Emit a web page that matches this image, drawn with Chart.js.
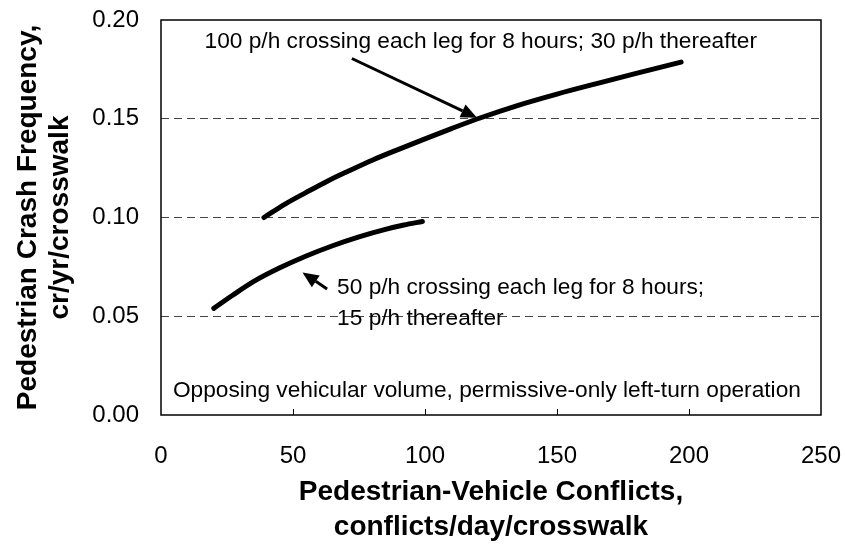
<!DOCTYPE html>
<html lang="en">

<head>
    <meta charset="UTF-8">
    <title>Pedestrian crash frequency</title>
    <style>
        body { margin: 0; background: #fff; }
        #wrap { width: 845px; height: 548px; }
    </style>
</head>

<body>
    <div id="wrap">
        <canvas id="myChart"></canvas>
    </div>

    <script src="https://cdn.jsdelivr.net/npm/chart.js"></script>

    <script>
        // 100 p/h curve
        let v_highX = [39, 47, 55, 63, 71, 80, 90, 100, 110, 120, 135, 150, 165, 180, 197];
        let v_highY = [0.100, 0.1068, 0.1127, 0.1184, 0.1235, 0.129, 0.1345, 0.1398, 0.145, 0.150, 0.1567, 0.1625, 0.1678, 0.173, 0.1787];
        // 50 p/h curve
        let v_lowX = [20, 27, 35, 45, 55, 65, 75, 85, 92, 99];
        let v_lowY = [0.054, 0.0605, 0.0675, 0.0745, 0.0805, 0.0857, 0.0902, 0.094, 0.0962, 0.098];

        let v_xTicks = [0, 50, 100, 150, 200, 250];
        let v_yTicks = [0.00, 0.05, 0.10, 0.15, 0.20];

        // text notes and arrows, in data units
        let v_notes = [
            { text: "100 p/h crossing each leg for 8 hours; 30 p/h thereafter", x: 16.5, y: 0.189 },
            { text: "50 p/h crossing each leg for 8 hours;", x: 66.7, y: 0.0645 },
            { text: "15 p/h thereafter", x: 66.7, y: 0.0485 },
            { text: "Opposing vehicular volume, permissive-only left-turn operation", x: 4.5, y: 0.0122 }
        ];
        let v_arrows = [
            { x1: 72.3, y1: 0.1805, x2: 119.7, y2: 0.1505 },
            { x1: 62.9, y1: 0.0638, x2: 53.6, y2: 0.0722 }
        ];

        function f_points(xs, ys) {
            let pts = [];
            for (let i = 0; i < xs.length; i++) {
                pts.push({ x: xs[i], y: ys[i] });
            }
            return pts;
        }

        const FONT = "'Liberation Sans', Arial, sans-serif";

        const decoPlugin = {
            id: "deco",
            beforeDatasetsDraw(chart) {
                const ctx = chart.ctx;
                const a = chart.chartArea;
                const xs = chart.scales.x;
                ctx.save();
                ctx.strokeStyle = "#000";
                ctx.lineWidth = 1.5;
                ctx.strokeRect(a.left, a.top, a.right - a.left, a.bottom - a.top);
                // small inward tick marks on the x axis
                ctx.lineWidth = 1;
                for (let i = 1; i < v_xTicks.length - 1; i++) {
                    let px = Math.round(xs.getPixelForValue(v_xTicks[i])) + 0.5;
                    ctx.beginPath();
                    ctx.moveTo(px, a.bottom);
                    ctx.lineTo(px, a.bottom - 6);
                    ctx.stroke();
                }
                ctx.restore();
            },
            afterDatasetsDraw(chart) {
                const ctx = chart.ctx;
                const xs = chart.scales.x;
                const ys = chart.scales.y;
                ctx.save();
                ctx.fillStyle = "#000";
                ctx.font = "22.7px " + FONT;
                ctx.textAlign = "left";
                ctx.textBaseline = "middle";
                for (let i = 0; i < v_notes.length; i++) {
                    ctx.fillText(v_notes[i].text, xs.getPixelForValue(v_notes[i].x), ys.getPixelForValue(v_notes[i].y));
                }
                ctx.strokeStyle = "#000";
                ctx.lineWidth = 3;
                for (let i = 0; i < v_arrows.length; i++) {
                    let x1 = xs.getPixelForValue(v_arrows[i].x1);
                    let y1 = ys.getPixelForValue(v_arrows[i].y1);
                    let x2 = xs.getPixelForValue(v_arrows[i].x2);
                    let y2 = ys.getPixelForValue(v_arrows[i].y2);
                    let ang = Math.atan2(y2 - y1, x2 - x1);
                    let hl = 16, hw = 7;
                    let bx = x2 - hl * Math.cos(ang);
                    let by = y2 - hl * Math.sin(ang);
                    ctx.beginPath();
                    ctx.moveTo(x1, y1);
                    ctx.lineTo(bx, by);
                    ctx.stroke();
                    ctx.beginPath();
                    ctx.moveTo(x2, y2);
                    ctx.lineTo(bx + hw * Math.sin(ang), by - hw * Math.cos(ang));
                    ctx.lineTo(bx - hw * Math.sin(ang), by + hw * Math.cos(ang));
                    ctx.closePath();
                    ctx.fill();
                }
                ctx.restore();
            }
        };

        const ctx = document.getElementById("myChart");

        new Chart(ctx, {
            type: "line",
            data: {
                datasets: [{
                    label: "100 p/h",
                    data: f_points(v_highX, v_highY),
                    borderColor: "#000",
                    borderWidth: 5,
                    borderCapStyle: "round",
                    pointRadius: 0,
                    cubicInterpolationMode: "monotone",
                    fill: false
                }, {
                    label: "50 p/h",
                    data: f_points(v_lowX, v_lowY),
                    borderColor: "#000",
                    borderWidth: 5,
                    borderCapStyle: "round",
                    pointRadius: 0,
                    cubicInterpolationMode: "monotone",
                    fill: false
                }]
            },
            options: {
                responsive: true,
                maintainAspectRatio: false,
                animation: false,
                layout: { padding: { top: 20, right: 24, left: 0, bottom: 0 } },
                plugins: {
                    legend: { display: false },
                    tooltip: { enabled: false }
                },
                scales: {
                    x: {
                        type: "linear",
                        min: 0,
                        max: 250,
                        afterBuildTicks: (s) => { s.ticks = v_xTicks.map(v => ({ value: v })); },
                        afterFit: (s) => { s.height = 133; s.paddingLeft = 0; s.paddingRight = 0; },
                        grid: { display: false, drawTicks: false },
                        border: { display: false },
                        ticks: {
                            color: "#000",
                            padding: 27,
                            maxRotation: 0,
                            font: { family: FONT, size: 24 }
                        },
                        title: {
                            display: true,
                            text: ["Pedestrian-Vehicle Conflicts,", "conflicts/day/crosswalk"],
                            color: "#000",
                            font: { family: FONT, size: 28, weight: "bold", lineHeight: 1.25 },
                            padding: { top: 0, bottom: 3 }
                        }
                    },
                    y: {
                        min: 0,
                        max: 0.2,
                        afterBuildTicks: (s) => { s.ticks = v_yTicks.map(v => ({ value: v })); },
                        afterFit: (s) => { s.width = 161; s.paddingTop = 0; s.paddingBottom = 0; },
                        grid: {
                            drawTicks: false,
                            color: (c) => (c.tick && c.tick.value > 0.001 && c.tick.value < 0.199) ? "#444" : "rgba(0,0,0,0)",
                            lineWidth: 1
                        },
                        border: { display: false, dash: [8, 5] },
                        ticks: {
                            color: "#000",
                            padding: 22,
                            font: { family: FONT, size: 24 },
                            callback: (v) => Number(v).toFixed(2)
                        },
                        title: {
                            display: true,
                            text: ["Pedestrian Crash Frequency,", "cr/yr/crosswalk"],
                            color: "#000",
                            font: { family: FONT, size: 28, weight: "bold", lineHeight: 1.15 },
                            padding: { top: 12, bottom: 0 }
                        }
                    }
                }
            },
            plugins: [decoPlugin]
        });
    </script>

</body>

</html>
